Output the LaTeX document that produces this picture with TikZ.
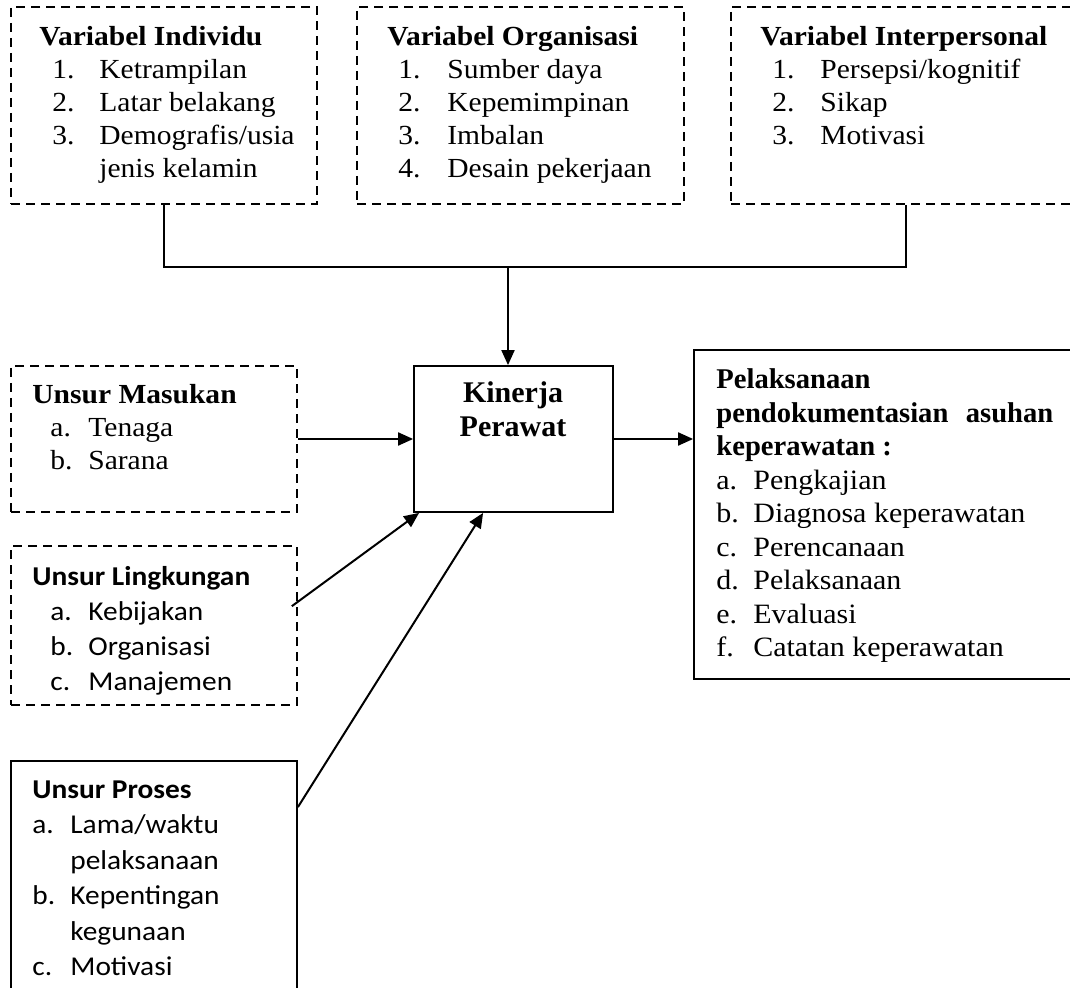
\documentclass[tikz,border=0pt]{standalone}
\usepackage{fontspec}
\setmainfont{Liberation Serif}[FakeStretch=1.07]
\newfontfamily\kinfont{Liberation Serif}
\newfontfamily\calfont{Carlito}[FakeStretch=1.08]
\usetikzlibrary{arrows.meta,fit,calc}
\tikzset{
  dbox/.style={draw, line width=0.8pt, dash pattern=on 4.5pt off 3pt, inner sep=0pt},
  sbox/.style={draw, line width=0.9pt, inner sep=0pt},
  txt/.style={anchor=base west, inner sep=0pt},
  conn/.style={line width=1pt},
  arr/.style={line width=1pt, -{Triangle[length=7.5pt,width=6.5pt]}},
}
\begin{document}
\begin{tikzpicture}[x=0.5pt,y=-0.5pt]
\useasboundingbox (0,0) rectangle (1070,988);
\clip (0,0) rectangle (1070,988);
% boxes
\node[dbox, fit={(11,7) (317,204)}] (ind) {};
\node[dbox, fit={(357,7) (684,204)}] (org) {};
\node[dbox, fit={(731,7) (1080,204)}] (int) {};
\node[dbox, fit={(11,366) (297,512)}] (mas) {};
\node[dbox, fit={(11,546) (297,705)}] (lin) {};
\node[sbox, fit={(11,761) (297,1010)}] (pro) {};
\node[sbox, fit={(414,366) (613,512)}] (kin) {};
\node[sbox, fit={(694,350) (1090,679)}] (out) {};
% texts
\node[txt] (indt) at (39,46) {\fontsize{13.8pt}{16.5pt}\selectfont
 \begin{tabular}[t]{@{}l@{}}
 \textbf{Variabel Individu}\\
 \hspace*{6.5pt}\makebox[23.5pt][l]{1.}Ketrampilan\\
 \hspace*{6.5pt}\makebox[23.5pt][l]{2.}Latar belakang\\
 \hspace*{6.5pt}\makebox[23.5pt][l]{3.}Demografis/usia\\
 \hspace*{30pt}jenis kelamin
 \end{tabular}};
\node[txt] (orgt) at (387,46) {\fontsize{13.8pt}{16.5pt}\selectfont
 \begin{tabular}[t]{@{}l@{}}
 \textbf{Variabel Organisasi}\\
 \hspace*{5.5pt}\makebox[24.5pt][l]{1.}Sumber daya\\
 \hspace*{5.5pt}\makebox[24.5pt][l]{2.}Kepemimpinan\\
 \hspace*{5.5pt}\makebox[24.5pt][l]{3.}Imbalan\\
 \hspace*{5.5pt}\makebox[24.5pt][l]{4.}Desain pekerjaan
 \end{tabular}};
\node[txt] (intt) at (760,46) {\fontsize{13.8pt}{16.5pt}\selectfont
 \begin{tabular}[t]{@{}l@{}}
 \textbf{Variabel Interpersonal}\\
 \hspace*{6pt}\makebox[24pt][l]{1.}Persepsi/kognitif\\
 \hspace*{6pt}\makebox[24pt][l]{2.}Sikap\\
 \hspace*{6pt}\makebox[24pt][l]{3.}Motivasi
 \end{tabular}};
\node[txt] (mast) at (32,404) {\fontsize{13.8pt}{16.5pt}\selectfont
 \begin{tabular}[t]{@{}l@{}}
 \textbf{Unsur Masukan}\\
 \hspace*{9pt}\makebox[19pt][l]{a.}Tenaga\\
 \hspace*{9pt}\makebox[19pt][l]{b.}Sarana
 \end{tabular}};
\node[txt] (lint) at (32,585) {\calfont\fontsize{13.6pt}{17.5pt}\selectfont
 \begin{tabular}[t]{@{}l@{}}
 \textbf{Unsur Lingkungan}\\
 \hspace*{9pt}\makebox[19pt][l]{a.}Kebijakan\\
 \hspace*{9pt}\makebox[19pt][l]{b.}Organisasi\\
 \hspace*{9pt}\makebox[19pt][l]{c.}Manajemen
 \end{tabular}};
\node[txt] (prot) at (32,798) {\calfont\fontsize{13.6pt}{17.75pt}\selectfont
 \begin{tabular}[t]{@{}l@{}}
 \textbf{Unsur Proses}\\
 \makebox[19pt][l]{a.}Lama/waktu\\
 \hspace*{19pt}pelaksanaan\\
 \makebox[19pt][l]{b.}Kepentingan\\
 \hspace*{19pt}kegunaan\\
 \makebox[19pt][l]{c.}Motivasi
 \end{tabular}};
\node[anchor=base, inner sep=0pt] (kint) at (513,403) {\kinfont\fontsize{15pt}{17pt}\selectfont
 \begin{tabular}[t]{@{}c@{}}
 \textbf{Kinerja}\\
 \textbf{Perawat}
 \end{tabular}};
\node[txt] (outt) at (716,389) {\fontsize{14pt}{16.75pt}\selectfont
 \begin{tabular}[t]{@{}l@{}}
 {\kinfont\fontsize{14.3pt}{16.75pt}\selectfont\textbf{Pelaksanaan}}\\
 {\kinfont\fontsize{14.3pt}{16.75pt}\selectfont\makebox[168.5pt][s]{\textbf{pendokumentasian asuhan}}}\\
 {\kinfont\fontsize{14.3pt}{16.75pt}\selectfont\textbf{keperawatan :}}\\
 \makebox[18.5pt][l]{a.}Pengkajian\\
 \makebox[18.5pt][l]{b.}Diagnosa keperawatan\\
 \makebox[18.5pt][l]{c.}Perencanaan\\
 \makebox[18.5pt][l]{d.}Pelaksanaan\\
 \makebox[18.5pt][l]{e.}Evaluasi\\
 \makebox[18.5pt][l]{f.}Catatan keperawatan
 \end{tabular}};
% connectors
\coordinate (j) at (508,267);
\draw[conn] (ind.south) |- (j) -| (int.south);
\draw[arr] (j) -- (j |- kin.north);
\draw[arr] (mas.east) -- (kin.west);
\draw[arr] ($(lin.north east)+(-6,61)$) -- ($(kin.south west)+(6,0)$);
\draw[arr] ($(pro.north east)+(0,47)$) -- ($(kin.south west)+(70,0)$);
\draw[arr] (kin.east) -- (kin.east -| out.west);
\end{tikzpicture}
\end{document}
